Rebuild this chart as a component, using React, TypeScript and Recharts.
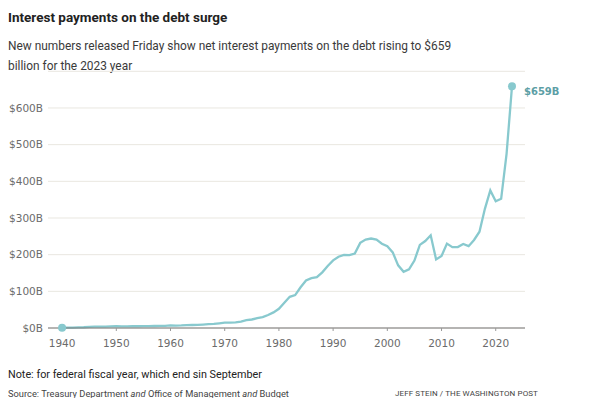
import React from 'react';
import { LineChart, Line, XAxis, YAxis, CartesianGrid, LabelList } from 'recharts';

// Net interest payments on the federal debt, billions of dollars, fiscal years
const years = [
  1940, 1941, 1942, 1943, 1944, 1945, 1946, 1947, 1948, 1949,
  1950, 1951, 1952, 1953, 1954, 1955, 1956, 1957, 1958, 1959,
  1960, 1961, 1962, 1963, 1964, 1965, 1966, 1967, 1968, 1969,
  1970, 1971, 1972, 1973, 1974, 1975, 1976, 1977, 1978, 1979,
  1980, 1981, 1982, 1983, 1984, 1985, 1986, 1987, 1988, 1989,
  1990, 1991, 1992, 1993, 1994, 1995, 1996, 1997, 1998, 1999,
  2000, 2001, 2002, 2003, 2004, 2005, 2006, 2007, 2008, 2009,
  2010, 2011, 2012, 2013, 2014, 2015, 2016, 2017, 2018, 2019,
  2020, 2021, 2022, 2023,
];

const interest = [
  1, 1, 1, 1.5, 2, 3, 4, 4, 4, 4.5,
  4.8, 4.7, 4.7, 5, 4.8, 4.9, 5.1, 5.4, 5.6, 5.8,
  6.9, 6.7, 6.9, 7.7, 8.2, 8.6, 9.4, 10.3, 11.1, 12.7,
  14.4, 14.8, 15.5, 17.3, 21.4, 23.2, 26.7, 29.9, 35.5, 42.6,
  52.5, 68.8, 85, 89.8, 111, 129.5, 136, 138.6, 151.8, 169,
  184.3, 194.4, 199.3, 198.7, 202.9, 232.1, 241.1, 244, 241.1, 229.8,
  222.9, 206.2, 170.9, 153.1, 160.2, 184, 226.6, 237.1, 252.8, 186.9,
  196.2, 230, 220.4, 220.9, 229, 223.2, 240, 262.6, 325, 375,
  345.5, 352.3, 475, 659,
];

const yTicks = [0, 100, 200, 300, 400, 500, 600];
const xTicks = [1940, 1950, 1960, 1970, 1980, 1990, 2000, 2010, 2020];

const data = years.map((year, i) => ({ year, value: interest[i] }));

const LINE = '#88c9ce';
const TEXT = 'Roboto, "Liberation Sans", sans-serif';

const EndDot = (props: any) => {
  const { cx, cy, index } = props;
  if (index !== 0 && index !== data.length - 1) return <g key={`d${index}`} />;
  return <circle key={`d${index}`} cx={cx} cy={cy} r={4} fill={LINE} stroke="none" />;
};

const EndLabel = (props: any) => {
  const { x, y, index, value } = props;
  if (index !== data.length - 1) return null;
  return (
    <text x={x + 12} y={y + 5} dominantBaseline="central" fill="#5c9ea5" fontSize={10}
      fontWeight={700} fontFamily='"DejaVu Sans", sans-serif'>
      {`$${value}B`}
    </text>
  );
};

export default function App() {
  return (
    <div style={{ position: 'relative', width: 576, height: 390, fontFamily: TEXT, background: '#fff' }}>
      <div style={{ position: 'absolute', left: 0, top: 1, lineHeight: '16px', fontSize: 13.5, fontWeight: 700, color: '#222' }}>
        Interest payments on the debt surge
      </div>
      <div style={{ position: 'absolute', left: 0, top: 27.5, lineHeight: '20px', fontSize: 11.9, color: '#3a3a3a' }}>
        New numbers released Friday show net interest payments on the debt rising to $659
        <br />
        billion for the 2023 year
      </div>

      <div style={{ position: 'absolute', left: 0, top: 50 }}>
        <LineChart width={576} height={294} data={data} margin={{ top: 13.3, right: 59, bottom: 0, left: 0 }}>
          <CartesianGrid vertical={false} stroke="#e9e7e0" strokeWidth={1} />
          <XAxis
            dataKey="year"
            type="number"
            domain={[1937.4, 2025.4]}
            ticks={xTicks}
            height={24}
            tickSize={3}
            tickMargin={9}
            axisLine={{ stroke: '#777', strokeWidth: 1.2 }}
            tickLine={{ stroke: '#999' }}
            tick={{ fill: '#6b6b6b', fontSize: 10.5, fontFamily: '"DejaVu Sans", sans-serif' }}
          />
          <YAxis
            type="number"
            domain={[0, 700]}
            ticks={yTicks}
            width={40}
            tickSize={0}
            tickMargin={5}
            axisLine={false}
            tickLine={false}
            tickFormatter={(v: number) => `$${v}B`}
            tick={{ fill: '#6b6b6b', fontSize: 10.5, fontFamily: '"DejaVu Sans", sans-serif' }}
          />
          <Line
            type="linear"
            dataKey="value"
            stroke={LINE}
            strokeWidth={2.3}
            dot={EndDot}
            activeDot={false}
            isAnimationActive={false}
          >
            <LabelList dataKey="value" content={EndLabel} />
          </Line>
        </LineChart>
      </div>

      <div style={{ position: 'absolute', left: 0, top: 360, lineHeight: '13px', fontSize: 10.8, color: '#222' }}>
        Note: for federal fiscal year, which end sin September
      </div>
      <div style={{ position: 'absolute', left: 0, top: 379, lineHeight: '13px', fontSize: 9.3, color: '#444' }}>
        Source: Treasury Department <i>and</i> Office of Management <i>and</i> Budget
      </div>
      <div style={{ position: 'absolute', right: 46, top: 379.5, lineHeight: '12px', fontSize: 8, color: '#444', letterSpacing: 0.1 }}>
        JEFF STEIN / THE WASHINGTON POST
      </div>
    </div>
  );
}
